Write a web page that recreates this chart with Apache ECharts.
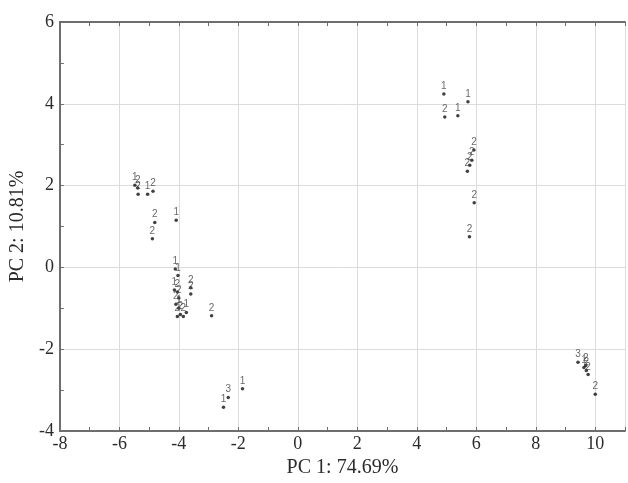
<!DOCTYPE html>
<html>
<head>
<meta charset="utf-8">
<script src="https://cdn.jsdelivr.net/npm/echarts@6/dist/echarts.min.js"></script>
<style>
html,body{margin:0;padding:0;background:#fff;}
#pca-chart{width:628px;height:483px;}
</style>
</head>
<body>
<div id="pca-chart"></div>
<script>
// PC1 / PC2 scores and the group number written next to each point
var pc1 = [
    -5.48, -5.38, -5.37, -5.05, -4.87, -4.81, -4.89, -4.09,
    -4.12, -4.03, -4.15, -4.05, -4.0, -3.6, -3.6, -4.1, -4.0, -3.95, -3.85, -3.75, -4.05, -2.9,
    -1.86, -2.34, -2.5,
    4.91, 5.72, 4.94, 5.38, 5.92, 5.85, 5.78, 5.7, 5.93, 5.77,
    9.42, 9.68, 9.62, 9.7, 9.76, 10.0
];
var pc2 = [
    2.01, 1.94, 1.79, 1.79, 1.86, 1.10, 0.70, 1.15,
    -0.04, -0.2, -0.55, -0.6, -0.75, -0.5, -0.65, -0.9, -1.0, -1.15, -1.2, -1.1, -1.2, -1.18,
    -2.97, -3.18, -3.42,
    4.24, 4.05, 3.68, 3.71, 2.87, 2.62, 2.5, 2.35, 1.58, 0.75,
    -2.32, -2.4, -2.45, -2.52, -2.62, -3.1
];
var grp = [
    '1', '2', '2', '1', '2', '2', '2', '1',
    '1', '1', '1', '2', '2', '2', '2', '2', '1', '2', '2', '1', '2', '2',
    '1', '3', '1',
    '1', '1', '2', '1', '2', '2', '2', '2', '2', '2',
    '3', '2', '1', '2', '2', '2'
];

var xTicks = [-8, 11, 2];
var yTicks = [-4, 6, 2];
var xName = 'PC 1: 74.69%';
var yName = 'PC 2: 10.81%';

var chart = echarts.init(document.getElementById('pca-chart'));

var pts = [];
for (var i = 0; i < pc1.length; i++) {
    pts.push([pc1[i], pc2[i], grp[i]]);
}

var axisCol = '#6e6e6e';
var serif = '"Liberation Serif", "DejaVu Serif", serif';

option = {
    animation: false,
    grid: { left: 59, top: 22, right: 0, bottom: 52 },
    xAxis: [{
        type: 'value',
        position: 'bottom',
        min: xTicks[0], max: xTicks[1], interval: xTicks[2],
        name: xName,
        nameLocation: 'middle',
        nameGap: 27,
        nameTextStyle: { fontFamily: serif, fontSize: 20, color: '#2b2b2b' },
        axisLine: { onZero: false, lineStyle: { color: axisCol, width: 2 } },
        axisTick: { inside: true, length: 4, lineStyle: { color: axisCol } },
        minorTick: { show: true, splitNumber: 2, length: 4, lineStyle: { color: axisCol } },
        axisLabel: {
            fontFamily: serif, fontSize: 18, color: '#2b2b2b', margin: 4,
            formatter: function (v) { return v > xTicks[1] - 1 ? '' : v; }
        },
        splitLine: { show: true, lineStyle: { color: '#dcdcdc', width: 1 } }
    }, {
        type: 'value',
        position: 'top',
        min: xTicks[0], max: xTicks[1], interval: 1,
        axisLine: { onZero: false, lineStyle: { color: axisCol, width: 2 } },
        axisTick: { inside: true, length: 4, lineStyle: { color: axisCol } },
        axisLabel: { show: false },
        splitLine: { show: false }
    }],
    yAxis: {
        type: 'value',
        min: yTicks[0], max: yTicks[1], interval: yTicks[2],
        name: yName,
        nameLocation: 'middle',
        nameGap: 31,
        nameTextStyle: { fontFamily: serif, fontSize: 20, color: '#2b2b2b' },
        axisLine: { onZero: false, lineStyle: { color: axisCol, width: 2 } },
        axisTick: { inside: true, length: 4, lineStyle: { color: axisCol } },
        minorTick: { show: true, splitNumber: 2, length: 4, lineStyle: { color: axisCol } },
        axisLabel: { fontFamily: serif, fontSize: 18, color: '#2b2b2b', margin: 6 },
        splitLine: { show: true, lineStyle: { color: '#dcdcdc', width: 1 } }
    },
    series: [{
        type: 'scatter',
        xAxisIndex: 0,
        data: pts,
        symbol: 'circle',
        symbolSize: 3.5,
        itemStyle: { color: '#111' },
        label: {
            show: true,
            position: 'top',
            distance: 1,
            fontFamily: '"Liberation Sans", Arial, sans-serif',
            fontSize: 10,
            color: '#444',
            formatter: function (p) { return p.data[2]; }
        }
    }]
};
chart.setOption(option);
</script>
</body>
</html>
